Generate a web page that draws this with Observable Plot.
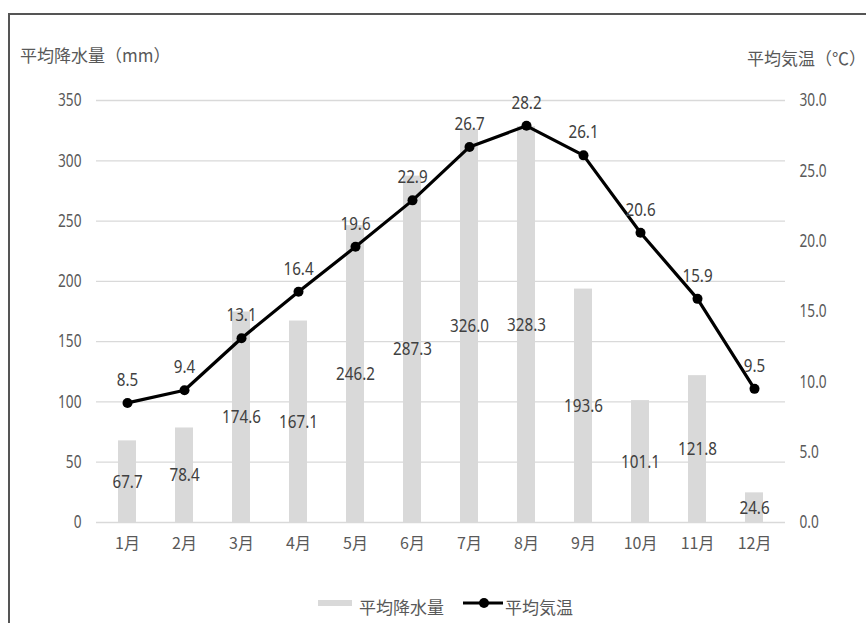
<!DOCTYPE html>
<html><head><meta charset="utf-8">
<script src="https://cdn.jsdelivr.net/npm/d3@7"></script>
<script src="https://cdn.jsdelivr.net/npm/@observablehq/plot@0.6"></script>
<style>
body{margin:0;background:#fff;}
#wrap{position:relative;width:866px;height:623px;overflow:hidden;background:#fff;}
#frame{position:absolute;left:8px;top:13px;width:1000px;height:1000px;border-left:2px solid #555;border-top:2px solid #555;}
.t{position:absolute;font-family:"Noto Sans CJK JP";color:#595959;font-size:17px;white-space:nowrap;}
#chart{position:absolute;left:0;top:0;}
</style></head>
<body><div id="wrap"><div id="frame"></div>
<div class="t" style="left:20px;top:42px;">平均降水量（mm）</div>
<div class="t" style="right:0px;top:45px;">平均気温（℃）</div>
<div id="chart"></div>
<div id="legend" style="position:absolute;left:0;top:590px;width:866px;height:28px;"></div>
</div>
<script>
const months = ["1月","2月","3月","4月","5月","6月","7月","8月","9月","10月","11月","12月"];
const precipitation = [67.7,78.4,174.6,167.1,246.2,287.3,326.0,328.3,193.6,101.1,121.8,24.6];
const temperature = [8.5,9.4,13.1,16.4,19.6,22.9,26.7,28.2,26.1,20.6,15.9,9.5];
const precipTicks = [0,50,100,150,200,250,300,350];
const tempTicks = [0,5,10,15,20,25,30];

const yMax = 350, tMax = 30;
const toY = t => t * yMax / tMax;
const data = months.map((m,i)=>({month:m, p:precipitation[i], t:temperature[i]}));
const numFont = "'Noto Sans', sans-serif";

const chart = Plot.plot({
  width: 866, height: 560,
  marginTop: 100, marginBottom: 38, marginLeft: 96, marginRight: 81,
  x: {type:"band", domain: months, paddingInner: 0.69, paddingOuter: 0.345, align: 0.5, label: null},
  y: {domain:[0,yMax], label: null},
  style: {fontFamily: numFont, fontSize: "18px", color:"#595959", background:"transparent"},
  marks: [
    Plot.gridY(precipTicks, {stroke:"#d9d9d9", strokeOpacity:1, strokeWidth:1.3}),
    Plot.barY(data, {x:"month", y:"p", fill:"#d9d9d9"}),
    Plot.axisY({ticks: precipTicks, anchor:"left", label:null, tickSize:0, tickPadding:15, tickFormat: d=>String(d), fontSize:18, fill:"#595959", className:"num-axis"}),
    Plot.axisY({ticks: tempTicks.map(toY), anchor:"right", label:null, tickSize:0, tickPadding:14, tickFormat: d=>(d*tMax/yMax).toFixed(1), fontSize:18, fill:"#595959", textAnchor:"start", className:"num-axis"}),
    Plot.axisX({label:null, tickSize:0, tickPadding:15, fontFamily:"'Noto Sans CJK JP'", fontSize:16, fill:"#595959"}),
    Plot.text(data, {x:"month", y: d=>d.p/2, text: d=>d.p.toFixed(1), fill:"#404040", fontSize:19, fontFamily:numFont, className:"num-label"}),
    Plot.line(data, {x:"month", y: d=>toY(d.t), stroke:"#000", strokeWidth:3.2}),
    Plot.dot(data, {x:"month", y: d=>toY(d.t), fill:"#000", r:5}),
    Plot.text(data, {x:"month", y: d=>toY(d.t), dy:-23, text: d=>d.t.toFixed(1), fill:"#404040", fontSize:19, fontFamily:numFont, className:"num-label"})
  ]
});
document.getElementById("chart").appendChild(chart);

// condensed look for numeric texts: append a horizontal scale after Plot's own translate
function condense(sel, k){
  d3.select(chart).selectAll(sel).each(function(){
    const tr = this.getAttribute("transform") || "";
    this.setAttribute("transform", tr + ` scale(${k},1)`);
  });
}
condense("g.num-axis text", 0.76);
condense("g.num-label text", 0.8);

// legend
const lg = d3.select("#legend").append("svg").attr("width",866).attr("height",28);
lg.append("rect").attr("x",318).attr("y",10).attr("width",34).attr("height",6).attr("fill","#d9d9d9");
lg.append("text").attr("x",359).attr("y",19).attr("dominant-baseline","middle").attr("font-family","Noto Sans CJK JP").attr("font-size",17).attr("fill","#595959").text("平均降水量");
lg.append("line").attr("x1",463).attr("x2",503).attr("y1",13).attr("y2",13).attr("stroke","#000").attr("stroke-width",3.2);
lg.append("circle").attr("cx",484).attr("cy",13).attr("r",5).attr("fill","#000");
lg.append("text").attr("x",505).attr("y",19).attr("dominant-baseline","middle").attr("font-family","Noto Sans CJK JP").attr("font-size",17).attr("fill","#595959").text("平均気温");
</script></body></html>
